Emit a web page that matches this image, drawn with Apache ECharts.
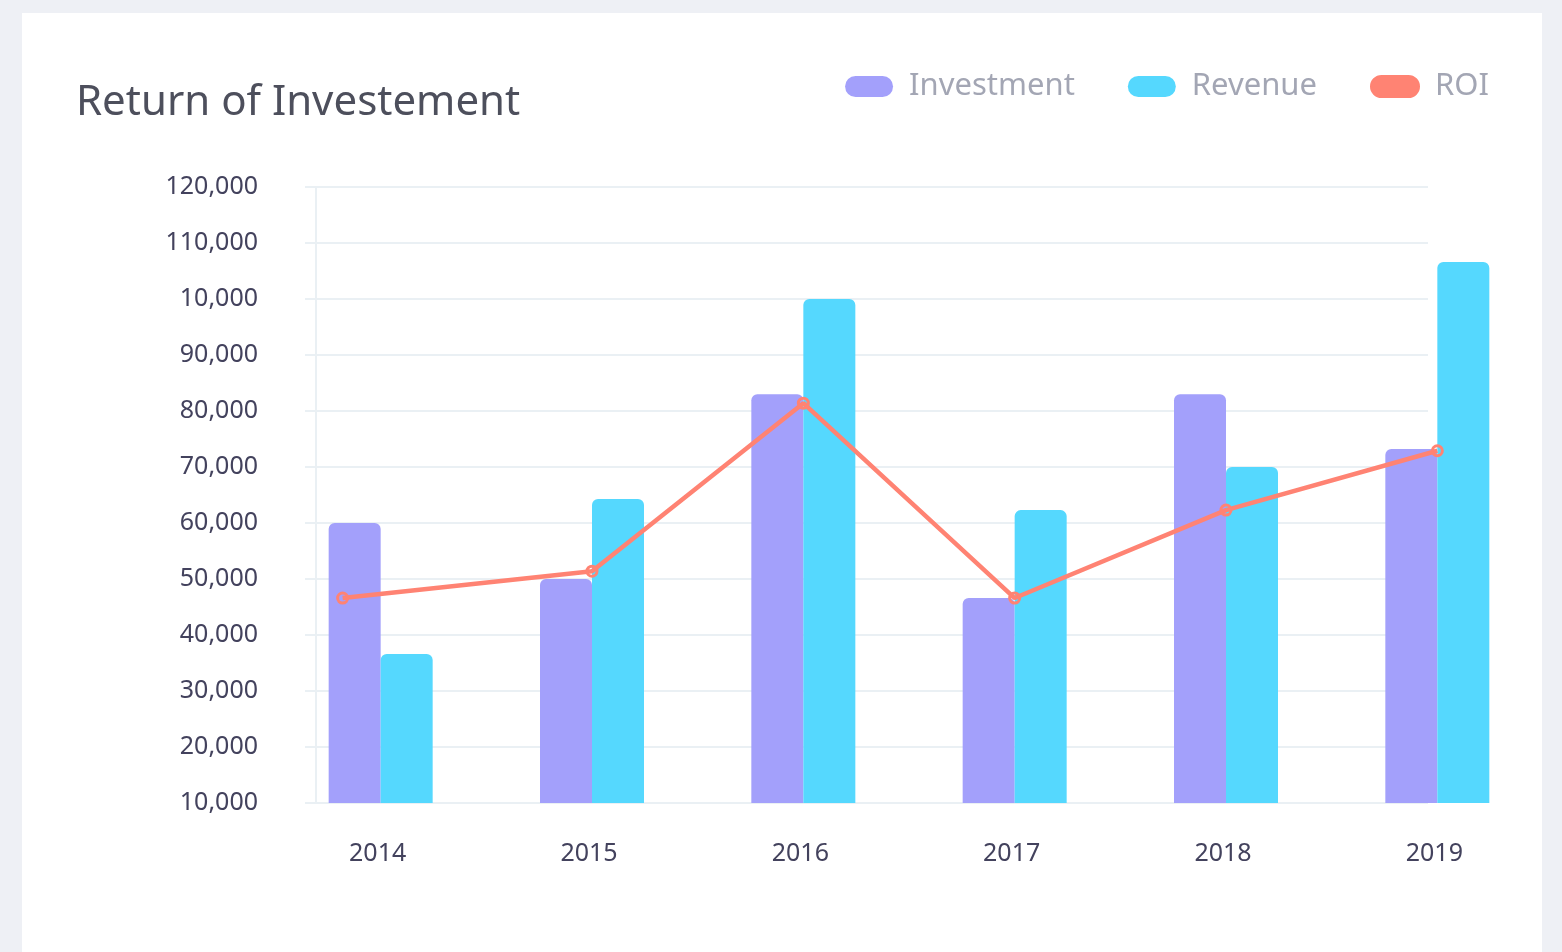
<!DOCTYPE html>
<html>
<head>
<meta charset="utf-8">
<script src="https://cdn.jsdelivr.net/npm/echarts@6/dist/echarts.min.js"></script>
<style>
  html, body { margin: 0; padding: 0; width: 1562px; height: 952px; background: #eef0f5; overflow: hidden; }
  .card { position: absolute; left: 22px; top: 13px; width: 1520px; height: 960px; background: #fff; }
  #chart { position: absolute; left: 0; top: 0; width: 1562px; height: 952px; }
</style>
</head>
<body>
<div class="card"></div>
<div id="chart"></div>
<script>
// data
var years = ['2014', '2015', '2016', '2017', '2018', '2019'];
var investment = [60000, 50000, 83000, 46600, 83000, 73200];
var revenue = [36600, 64300, 100000, 62300, 70000, 106600];
var roiX = [-0.18, 1, 2, 3, 4, 5];
var roi = [46600, 51400, 81400, 46600, 62300, 72900];
var yTickLabels = ['10,000', '20,000', '30,000', '40,000', '50,000', '60,000',
  '70,000', '80,000', '90,000', '10,000', '110,000', '120,000'];

var font = 'Noto Sans';
var pill = 'path://M10.5,0H37.5A10.5,10.5,0,0,1,37.5,21H10.5A10.5,10.5,0,0,1,10.5,0Z';

var myChart = echarts.init(document.getElementById('chart'));

var option = {
  animation: false,
  textStyle: { fontFamily: font },
  title: {
    text: 'Return of Investement',
    left: 71,
    top: 77,
    textStyle: { fontFamily: font, fontSize: 42, fontWeight: 'normal', color: '#4d4f5c' }
  },
  legend: {
    right: 68,
    top: 66,
    itemWidth: 48,
    itemHeight: 21,
    itemGap: 53,
    icon: pill,
    textStyle: { fontFamily: font, fontSize: 31, color: '#a3a6b4', padding: [0, 0, 0, 11] },
    data: [
      { name: 'Investment', itemStyle: { color: '#a3a0fb' } },
      { name: 'Revenue', itemStyle: { color: '#55d8fe' } },
      { name: 'ROI', itemStyle: { color: '#ff8373' } }
    ]
  },
  grid: [
    { left: 316, right: 134, top: 187, bottom: 149 },
    { left: 275, right: 19, top: 187, bottom: 149 }
  ],
  xAxis: [
    { type: 'category', gridIndex: 0, data: years, show: false },
    {
      type: 'category', gridIndex: 1, data: years,
      axisLine: { show: false }, axisTick: { show: false },
      axisLabel: { margin: 38, fontSize: 25, color: '#43425d', fontFamily: font, padding: [0, 6, 0, 0] }
    },
    { type: 'value', gridIndex: 1, min: -0.5, max: 5.5, show: false }
  ],
  yAxis: [
    {
      type: 'value', gridIndex: 0, min: 10000, max: 120000, interval: 10000,
      axisLine: { show: true, lineStyle: { color: '#eaf0f4', width: 2 } },
      axisTick: { show: true, length: 11, lineStyle: { color: '#eaf0f4', width: 2 } },
      splitLine: { lineStyle: { color: '#eaf0f4', width: 2 } },
      axisLabel: {
        margin: 58, fontSize: 25, color: '#43425d', fontFamily: font,
        formatter: function (v, i) { return yTickLabels[i]; }
      }
    },
    { type: 'value', gridIndex: 1, min: 10000, max: 120000, interval: 10000, show: false, splitLine: { show: false } }
  ],
  series: [
    {
      name: 'Investment', type: 'bar', xAxisIndex: 1, yAxisIndex: 1,
      barWidth: 52, barGap: '0%',
      itemStyle: { color: '#a3a0fb', borderRadius: [6, 6, 0, 0] },
      data: investment
    },
    {
      name: 'Revenue', type: 'bar', xAxisIndex: 1, yAxisIndex: 1,
      barWidth: 52, barGap: '0%',
      itemStyle: { color: '#55d8fe', borderRadius: [6, 6, 0, 0] },
      data: revenue
    },
    {
      name: 'ROI', type: 'line', xAxisIndex: 2, yAxisIndex: 1, z: 10,
      symbol: 'circle', symbolSize: 10,
      lineStyle: { color: '#ff8373', width: 4.5 },
      itemStyle: { color: 'rgba(0,0,0,0)', borderColor: '#ff8373', borderWidth: 3 },
      data: roiX.map(function (x, i) { return [x, roi[i]]; })
    }
  ]
};

myChart.setOption(option);
</script>
</body>
</html>
